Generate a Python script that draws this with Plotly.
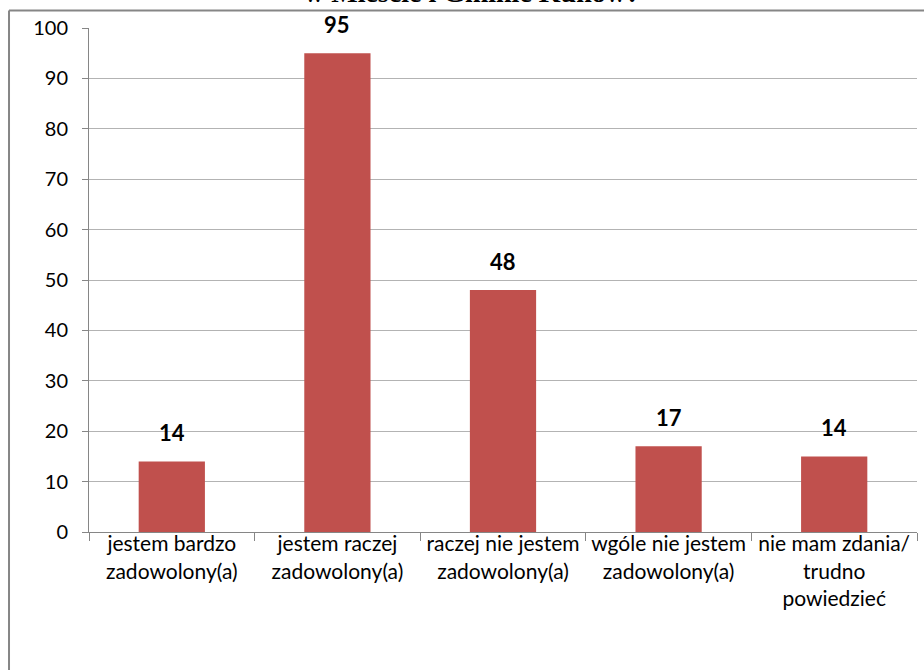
import plotly.graph_objects as go

categories = [
    "jestem bardzo<br>zadowolony(a)",
    "jestem raczej<br>zadowolony(a)",
    "raczej nie jestem<br>zadowolony(a)",
    "wgóle nie jestem<br>zadowolony(a)",
    "nie mam zdania/<br>trudno<br>powiedzieć",
]
values = [14, 95, 48, 17, 15]
label_texts = ["14", "95", "48", "17", "14"]
y_ticks = [0, 10, 20, 30, 40, 50, 60, 70, 80, 90, 100]
title_text = "w Mieście i Gminie Kunów?"

BAR_COLOR = "#C0504D"
AXIS_COLOR = "#868686"
GRID_COLOR = "#B3B3B3"
FONT = "Lato, 'Open Sans', sans-serif"

fig = go.Figure()
fig.add_trace(go.Bar(
    x=categories,
    y=values,
    marker=dict(color=BAR_COLOR, line=dict(width=0)),
    width=0.4,
    hoverinfo="skip",
))

annotations = []
for cat, val, txt in zip(categories, values, label_texts):
    annotations.append(dict(
        x=cat, y=val, xref="x", yref="y",
        text="<b>" + txt + "</b>", showarrow=False,
        yanchor="bottom", yshift=13,
        font=dict(family=FONT, size=22, color="#000000"),
    ))

# partially visible title (cut at the top of the page)
annotations.append(dict(
    x=0.463, y=1.036, xref="paper", yref="paper",
    text="<b>" + title_text + "</b>", showarrow=False,
    xanchor="center", yanchor="bottom",
    font=dict(family="'Liberation Serif', 'Times New Roman', serif", size=28, color="#000000"),
))

fig.update_layout(
    width=924, height=670,
    margin=dict(l=89, r=7, t=28, b=138, autoexpand=False),
    paper_bgcolor="white", plot_bgcolor="white",
    showlegend=False,
    annotations=annotations,
    shapes=[
        dict(type="line", xref="paper", yref="paper",
             x0=-0.0966, x1=1.2, y0=1.0347, y1=1.0347,
             line=dict(color=AXIS_COLOR, width=2)),
        dict(type="line", xref="paper", yref="paper",
             x0=-0.0966, x1=-0.0966, y0=-0.5, y1=1.0347,
             line=dict(color=AXIS_COLOR, width=2)),
    ],
    font=dict(family=FONT, color="#000000"),
)

fig.update_xaxes(
    type="category",
    range=[-0.5, 4.5],
    showline=True, linecolor=AXIS_COLOR, linewidth=1,
    ticks="outside", tickson="boundaries", ticklen=8, tickcolor=AXIS_COLOR,
    ticklabelstandoff=-7,
    showgrid=False,
    tickfont=dict(family=FONT, size=21, color="#000000"),
    fixedrange=True,
)
fig.update_yaxes(
    range=[0, 100],
    tickvals=y_ticks,
    showline=True, linecolor=AXIS_COLOR, linewidth=1,
    ticks="outside", ticklen=6, tickcolor=AXIS_COLOR,
    ticklabelstandoff=10,
    showgrid=True, gridcolor=GRID_COLOR, gridwidth=1,
    zeroline=False,
    tickfont=dict(family=FONT, size=20, color="#000000"),
    fixedrange=True,
)

fig.write_html(
    "out.html",
    config={"displayModeBar": False},
    post_script="document.body.style.margin='0';",
)
